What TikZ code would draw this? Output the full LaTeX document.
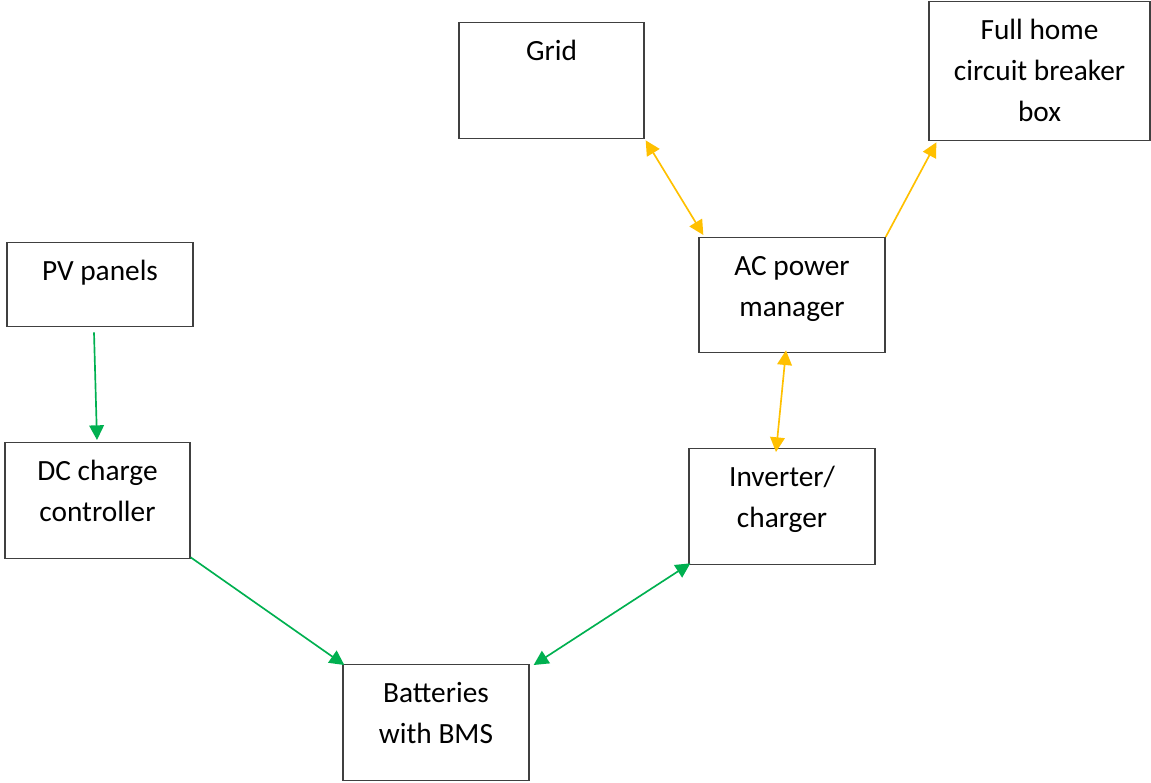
\documentclass[tikz,border=0pt]{standalone}
\usepackage{fontspec}
\setmainfont{Carlito}
\usetikzlibrary{arrows.meta, calc}
\definecolor{dcgreen}{HTML}{00B050}
\definecolor{acgold}{HTML}{FFC000}
\definecolor{boxgray}{HTML}{404040}

\begin{document}
\begin{tikzpicture}[
  x=0.75pt, y=-0.75pt,
  every node/.style = {font=\fontsize{22pt}{30.75pt}\selectfont},
  block/.style      = {draw=boxgray, line width=1pt, anchor=north, align=center,
                       inner xsep=0pt, inner ysep=0pt, minimum width=139.5pt,
                       text height=28.5pt, text depth=58.5pt},
  twolines/.style   = {block, text height=59.25pt, text depth=27.75pt},
  dcflow/.style     = {-{Triangle[length=11pt, width=11pt]}, draw=dcgreen, line width=1.25pt},
  dcboth/.style     = {{Triangle[length=11pt, width=11pt]}-{Triangle[length=11pt, width=11pt]},
                       draw=dcgreen, line width=1.25pt},
  acflow/.style     = {-{Triangle[length=11pt, width=11pt]}, draw=acgold, line width=1.25pt},
  acboth/.style     = {{Triangle[length=11pt, width=11pt]}-{Triangle[length=11pt, width=11pt]},
                       draw=acgold, line width=1.25pt},
]
  \useasboundingbox (0,0) rectangle (1151,782);

  % ------------------------------------------------------------ DC side
  \node[block, text depth=34.5pt] (pv)  at (100,242)   {PV panels};
  \node[twolines, minimum width=138.75pt] (dc) at (97.5,442) {DC charge\\controller};
  \node[twolines] (bat) at (436,664) {Batteries\\with BMS};

  % ------------------------------------------------------------ AC side
  \node[twolines] (inv)  at (782,448)   {Inverter/\\charger};
  \node[twolines, text depth=27pt] (ac) at (792,237) {AC power\\manager};
  \node[block, minimum width=138.75pt] (grid) at (551.5,22) {Grid};
  \node[block, minimum width=165.75pt, text height=90pt, text depth=14.25pt] (home)
        at (1039.5,1) {Full home\\circuit breaker\\box};

  % ------------------------------------------------------------ linkage
  \draw[dcflow] ($(pv.south)+(-6,5)$) -- ($(dc.north)+(-0.5,-2)$);
  \draw[dcflow] ($(dc.south east)+(0,-2)$) -- ($(bat.north west)+(2,1)$);
  \draw[dcboth] ($(bat.north east)+(4,1)$) -- ($(inv.south west)+(2,-2)$);
  \draw[acboth] ($(inv.north)+(-6,4)$) -- ($(ac.south)+(-6,-3)$);
  \draw[acboth] ($(ac.north west)+(5,-2)$) -- ($(grid.south east)+(1,1)$);
  \draw[acflow] (ac.north east) -- ($(home.south west)+(8,1)$);

\end{tikzpicture}
\end{document}
